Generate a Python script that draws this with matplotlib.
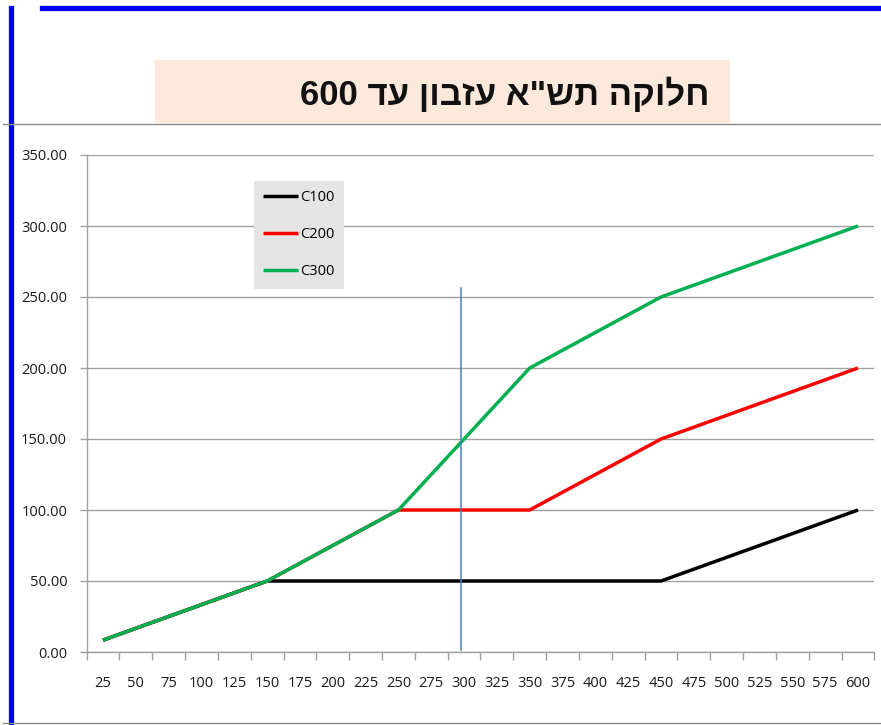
import numpy as np
import matplotlib.pyplot as plt
from matplotlib.lines import Line2D
from matplotlib.patches import Rectangle

# estate size categories
estates = [25, 50, 75, 100, 125, 150, 175, 200, 225, 250, 275, 300,
           325, 350, 375, 400, 425, 450, 475, 500, 525, 550, 575, 600]

c100 = [8.33, 16.67, 25, 33.33, 41.67, 50, 50, 50, 50, 50, 50, 50,
        50, 50, 50, 50, 50, 50, 58.33, 66.67, 75, 83.33, 91.67, 100]
c200 = [8.33, 16.67, 25, 33.33, 41.67, 50, 62.5, 75, 87.5, 100, 100, 100,
        100, 100, 112.5, 125, 137.5, 150, 158.33, 166.67, 175, 183.33, 191.67, 200]
c300 = [8.33, 16.67, 25, 33.33, 41.67, 50, 62.5, 75, 87.5, 100, 125, 150,
        175, 200, 212.5, 225, 237.5, 250, 258.33, 266.67, 275, 283.33, 291.67, 300]

series = [("C100", c100, "#000000"), ("C200", c200, "#FF0000"), ("C300", c300, "#00B050")]

marker_estate = 300
marker_range = (1.5, 256)

title_text = "חלוקה תש\"א עזבון עד 600"

W, H = 881, 725


def fx(px):
    return px / W


def fy(py):
    return 1 - py / H


def visual_rtl(text):
    # matplotlib has no bidi support: lay out hebrew right-to-left by hand
    words = text.split(" ")
    out = []
    for w in reversed(words):
        out.append(w if w.isdigit() else w[::-1])
    return " ".join(out)


fig = plt.figure(figsize=(W / 100, H / 100), dpi=100)
fig.patch.set_facecolor("white")

# slide decorations
fig.add_artist(Rectangle((fx(155), fy(123)), fx(730) - fx(155), fy(60) - fy(123),
                         transform=fig.transFigure, facecolor="#FDE9DB", edgecolor="none"))
fig.add_artist(Line2D([fx(42), fx(881)], [fy(8), fy(8)], transform=fig.transFigure,
                      color="#0000FF", lw=3.8))
fig.add_artist(Line2D([fx(11), fx(11)], [fy(8), fy(725)], transform=fig.transFigure,
                      color="#0000FF", lw=3.8))
fig.add_artist(Line2D([fx(3), fx(881)], [fy(123.5), fy(123.5)], transform=fig.transFigure,
                      color="#8C8C8C", lw=1.0))
fig.add_artist(Line2D([fx(3), fx(881)], [fy(722.5), fy(722.5)], transform=fig.transFigure,
                      color="#8C8C8C", lw=1.0))
fig.text(fx(709), fy(94), visual_rtl(title_text), ha="right", va="center",
         fontsize=25, fontweight="bold", family=["Liberation Sans", "DejaVu Sans"],
         color="#111111")

ax = fig.add_axes([fx(86.6), fy(652), fx(874.4) - fx(86.6), fy(155) - fy(652)])
xs = np.arange(len(estates))

for name, vals, color in series:
    ax.plot(xs, vals, color=color, lw=2.5, label=name, solid_capstyle="butt", zorder=3)

mx = estates.index(marker_estate)
ax.plot([mx - 0.1, mx - 0.1], marker_range, color="#4A7EBB", lw=1.1, zorder=4)

ax.set_xlim(-0.5, len(estates) - 0.5)
ax.set_ylim(0, 350)
ax.set_yticks(np.arange(0, 351, 50))
ax.set_yticklabels([f"{v:.2f}" for v in np.arange(0, 351, 50)])
ax.set_xticks(xs)
ax.set_xticklabels([str(e) for e in estates])
ax.set_xticks(np.arange(-0.5, len(estates), 1), minor=True)

grid_c = "#A0A0A0"
ax.grid(axis="y", color=grid_c, lw=1.0)
ax.set_axisbelow(True)
for s in ["top", "right"]:
    ax.spines[s].set_visible(False)
for s in ["left", "bottom"]:
    ax.spines[s].set_color(grid_c)
    ax.spines[s].set_linewidth(1.0)

tick_font = {"family": "Open Sans", "size": 10.5}
ax.tick_params(axis="x", which="major", length=0, pad=17, labelcolor="#1A1A1A")
ax.tick_params(axis="x", which="minor", length=6, color=grid_c, width=1.0)
ax.tick_params(axis="y", length=5, color=grid_c, width=1.0, pad=9, labelcolor="#1A1A1A")
for lab in ax.get_xticklabels() + ax.get_yticklabels():
    lab.set_fontfamily("Open Sans")
    lab.set_fontsize(10.5)

leg = ax.legend(loc="upper left", bbox_to_anchor=(fx(254), fy(181)),
                bbox_transform=fig.transFigure, prop=tick_font, frameon=True,
                fancybox=False, facecolor="#E4E4E4", edgecolor="none", framealpha=1,
                handlelength=2.35, handletextpad=0.15, labelspacing=1.5,
                borderpad=0.65, borderaxespad=0)
leg.get_frame().set_linewidth(0)

fig.savefig("out.png", dpi=100)
